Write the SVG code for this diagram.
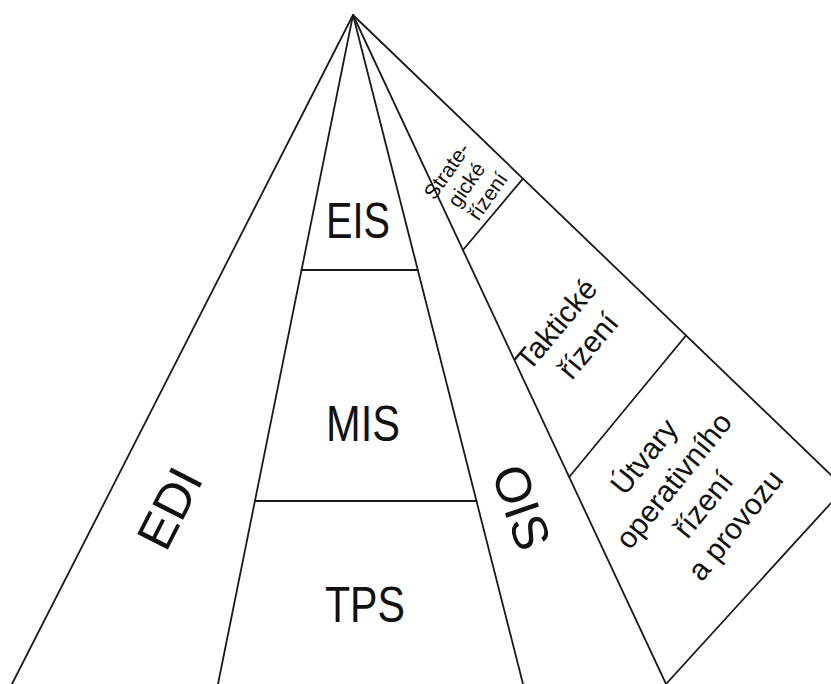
<svg xmlns="http://www.w3.org/2000/svg" width="831" height="684" viewBox="0 0 831 684">
  <style>
    .ln { stroke: #1a1a1a; stroke-width: 1.8; fill: none; stroke-linecap: round; }
    .big { font-family: "Liberation Sans", Arial, sans-serif; font-size: 50px; fill: #111; text-anchor: middle; }
    .mid { font-family: "Liberation Sans", Arial, sans-serif; font-size: 30px; fill: #111; text-anchor: middle; }
    .sml { font-family: "Liberation Sans", Arial, sans-serif; font-size: 21px; fill: #111; text-anchor: middle; }
  </style>
  <rect width="831" height="684" fill="#ffffff"/>

  <!-- outline of the pyramid and the management wedge -->
  <g id="connectors">
    <line class="ln" x1="353" y1="15" x2="12" y2="684"/>
    <line class="ln" x1="353" y1="15" x2="218" y2="684"/>
    <line class="ln" x1="353" y1="15" x2="523" y2="684"/>
    <line class="ln" x1="353" y1="15" x2="666" y2="684"/>
    <line class="ln" x1="353" y1="15" x2="831" y2="475"/>
    <line class="ln" x1="666" y1="684" x2="831" y2="503"/>
    <line class="ln" x1="301.5" y1="270" x2="417.8" y2="270"/>
    <line class="ln" x1="254.9" y1="501" x2="476.5" y2="501"/>
    <line class="ln" x1="463" y1="250" x2="523" y2="178.6"/>
    <line class="ln" x1="569.2" y1="477" x2="686" y2="335.5"/>
  </g>

  <g id="edi">
    <text class="big" transform="translate(169 508) rotate(-63)" y="18">EDI</text>
  </g>
  <g id="eis">
    <text class="big" x="358" y="238" textLength="64" lengthAdjust="spacingAndGlyphs">EIS</text>
  </g>
  <g id="mis">
    <text class="big" x="363" y="441" textLength="74" lengthAdjust="spacingAndGlyphs">MIS</text>
  </g>
  <g id="tps">
    <text class="big" x="365" y="622" textLength="80" lengthAdjust="spacingAndGlyphs">TPS</text>
  </g>
  <g id="ois">
    <text class="big" transform="translate(522 507) rotate(71)" y="18">OIS</text>
  </g>

  <g id="strategicke">
    <text class="sml" transform="translate(469 183) rotate(-55)">
      <tspan x="0" y="-18">Strate-</tspan>
      <tspan x="0" y="6">gické</tspan>
      <tspan x="0" y="30">řízení</tspan>
    </text>
  </g>
  <g id="takticke">
    <text class="mid" transform="translate(573 333) rotate(-50)">
      <tspan x="0" y="-8">Taktické</tspan>
      <tspan x="0" y="30">řízení</tspan>
    </text>
  </g>
  <g id="operativni">
    <text class="mid" transform="translate(692 490) rotate(-51)">
      <tspan x="0" y="-48">Útvary</tspan>
      <tspan x="0" y="-10">operativního</tspan>
      <tspan x="0" y="28">řízení</tspan>
      <tspan x="0" y="66">a provozu</tspan>
    </text>
  </g>
</svg>
